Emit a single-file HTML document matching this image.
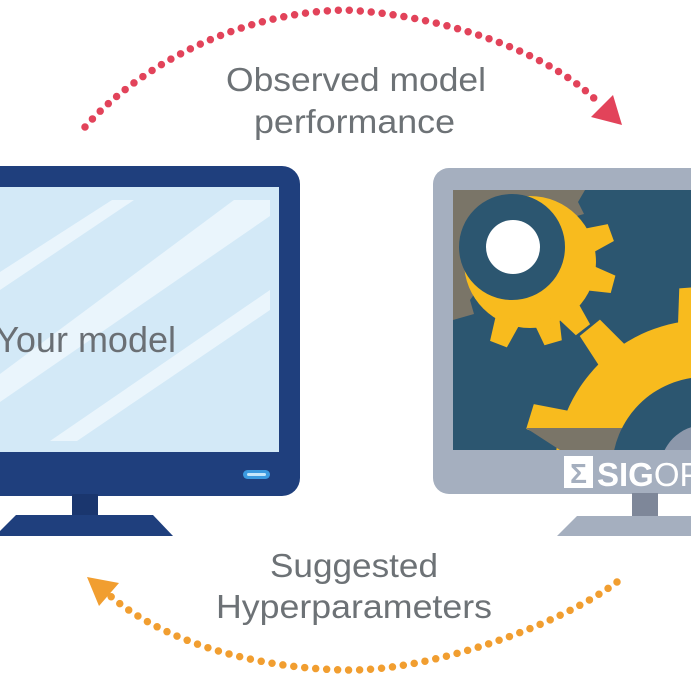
<!DOCTYPE html>
<html><head><meta charset="utf-8"><style>
html,body{margin:0;padding:0;background:#fff;}
svg{display:block;}
</style></head><body>
<svg width="691" height="691" viewBox="0 0 691 691" xmlns="http://www.w3.org/2000/svg">
<defs>
<clipPath id="scrR"><rect x="453" y="190" width="240" height="260"/></clipPath>
<clipPath id="scrL"><rect x="0" y="187" width="279" height="265"/></clipPath>
</defs>
<rect width="691" height="691" fill="#fff"/>

<!-- Left monitor -->
<rect x="-30" y="166" width="330" height="330" rx="18" fill="#1f3f7d"/>
<rect x="-10" y="187" width="289" height="265" fill="#d3e9f7"/>
<g clip-path="url(#scrL)" fill="#eaf5fc">
<polygon points="0,272 112,200 134,200 0,290"/>
<polygon points="0,374 234,200 270,200 270,216 0,402"/>
<polygon points="50,441 77,441 270,310 270,290"/>
</g>
<text x="176" y="352" text-anchor="end" font-family="Liberation Sans, Arial, sans-serif" font-size="36" fill="#6a6f74">Your model</text>
<rect x="243" y="470" width="27" height="9" rx="4.5" fill="#3b9ae0"/>
<rect x="247" y="473" width="19" height="3" rx="1.5" fill="#c4e6fb"/>
<rect x="72" y="494" width="26" height="22" fill="#1a366e"/>
<polygon points="16,515 153,515 173,536 -5,536" fill="#1f3f7d"/>

<!-- Right monitor -->
<rect x="433" y="168" width="300" height="326" rx="16" fill="#a5afbf"/>
<rect x="632" y="493" width="26" height="24" fill="#7e8799"/>
<polygon points="577,516 700,516 700,536 557,536" fill="#a5afbf"/>
<g clip-path="url(#scrR)">
<rect x="453" y="190" width="240" height="260" fill="#2c5670"/>
<polygon points="453,190 585,190 578,202 584,214 520,232 470,300 474,314 453,320" fill="#7a7568"/>
<!-- big gear -->
<g transform="translate(705 470)" fill="#f8bb1e">
<circle r="150"/>
<polygon points="145,-17 183,-13 183,13 145,17" transform="rotate(197)"/>
<polygon points="145,-17 183,-13 183,13 145,17" transform="rotate(231)"/>
<polygon points="145,-17 183,-13 183,13 145,17" transform="rotate(266)"/>
<polygon points="145,-17 183,-13 183,13 145,17" transform="rotate(300)"/>
</g>
<polygon points="526,428 622,428 622,452 563,452" fill="#7a7568"/>
<circle cx="705" cy="470" r="93" fill="#2c5670"/>
<circle cx="705" cy="470" r="45" fill="#8d98ab"/>
<!-- small gear -->
<g transform="translate(530 262)" fill="#f8bb1e">
<circle r="66"/>
<polygon points="60,-13 86,-9 86,9 60,13" transform="rotate(-20)"/>
<polygon points="60,-13 86,-9 86,9 60,13" transform="rotate(15)"/>
<polygon points="60,-13 86,-9 86,9 60,13" transform="rotate(52)"/>
<polygon points="60,-13 84,-9 84,9 60,13" transform="rotate(74)"/>
<polygon points="60,-13 88,-9 88,9 60,13" transform="rotate(111)"/>
</g>
<circle cx="512" cy="247" r="53" fill="#2c5670"/>
<circle cx="513" cy="247" r="27" fill="#ffffff"/>
</g>
<!-- logo -->
<rect x="564" y="456" width="29" height="32" fill="#ffffff"/>
<text x="578.5" y="483" text-anchor="middle" font-family="Liberation Sans, Arial, sans-serif" font-weight="bold" font-size="28" fill="#a5afbf">Σ</text>
<text x="597" y="486" font-family="Liberation Sans, Arial, sans-serif" font-size="33" fill="#ffffff"><tspan font-weight="bold">SIG</tspan>OPT</text>

<!-- red arc -->
<path d="M85,127 C140,65 240,12 345,10 C430,14 540,45 598,102" fill="none" stroke="#e2435a" stroke-width="7.5" stroke-linecap="round" stroke-dasharray="0 11"/>
<polygon points="622,125 591,117 613,95" fill="#e2435a"/>

<!-- orange arc -->
<path d="M617,582 C560,625 430,672 345,670 C250,668 160,640 108,594" fill="none" stroke="#f19e30" stroke-width="7.5" stroke-linecap="round" stroke-dasharray="0 11"/>
<polygon points="87,577 119,583 99,606" fill="#f19e30"/>

<!-- labels -->
<g font-family="Liberation Sans, Arial, sans-serif" font-size="33" fill="#6d7276">
<text x="226" y="91" textLength="260" lengthAdjust="spacingAndGlyphs">Observed model</text>
<text x="254" y="133" textLength="201" lengthAdjust="spacingAndGlyphs">performance</text>
<text x="270" y="577" textLength="168" lengthAdjust="spacingAndGlyphs">Suggested</text>
<text x="216" y="618" textLength="276" lengthAdjust="spacingAndGlyphs">Hyperparameters</text>
</g>
</svg>
</body></html>
